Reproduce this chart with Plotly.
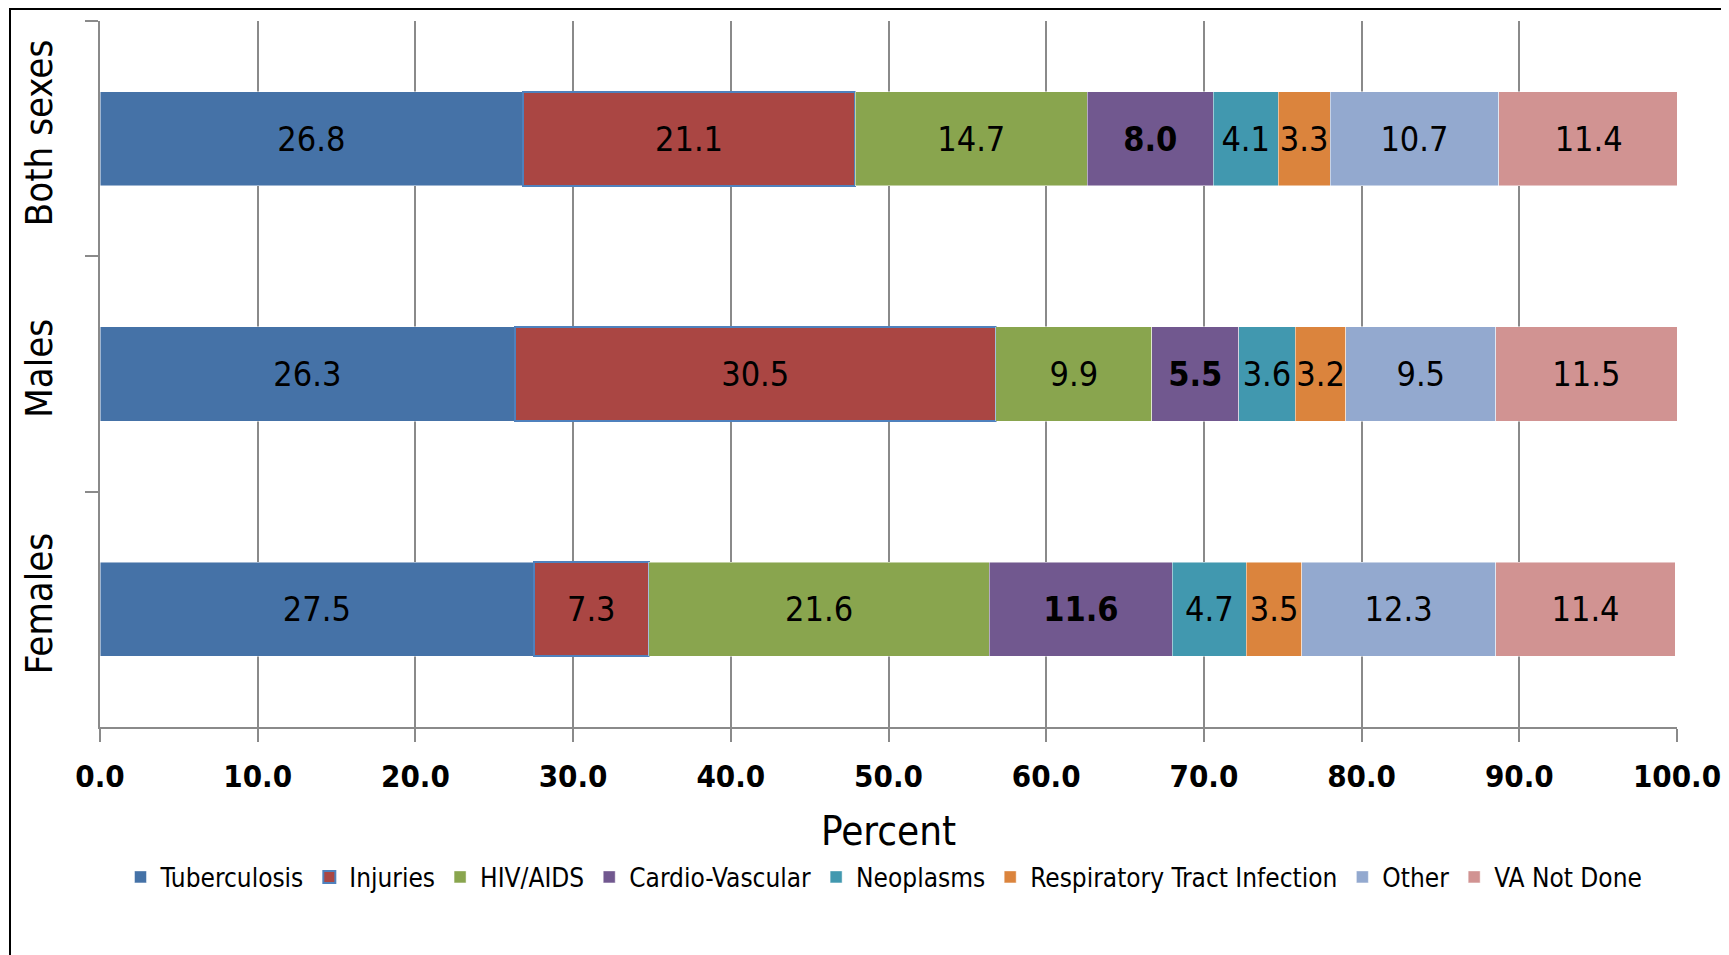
import plotly.graph_objects as go

groups = ["Both sexes", "Males", "Females"]
causes = ["Tuberculosis", "Injuries", "HIV/AIDS", "Cardio-Vascular", "Neoplasms",
          "Respiratory Tract Infection", "Other", "VA Not Done"]
tuberculosis = [26.8, 26.3, 27.5]
injuries = [21.1, 30.5, 7.3]
hiv_aids = [14.7, 9.9, 21.6]
cardio = [8.0, 5.5, 11.6]
neoplasms = [4.1, 3.6, 4.7]
respiratory = [3.3, 3.2, 3.5]
other = [10.7, 9.5, 12.3]
va_not_done = [11.4, 11.5, 11.4]
x_ticks = [0, 10, 20, 30, 40, 50, 60, 70, 80, 90, 100]

series = [tuberculosis, injuries, hiv_aids, cardio, neoplasms, respiratory, other, va_not_done]
colors = ["#4572A7", "#AA4643", "#89A54E", "#71588F", "#4198AF", "#DB843D", "#93A9CF", "#D19392"]

FONT = "Liberation Sans Narrow, Arial Narrow, DejaVu Sans Condensed, sans-serif"

# page has an 8px body margin, so the figure is made 8px smaller than the window
W, H = 1721, 947
L, T, B = 92, 13, 228
PW = 1577
PH = H - T - B

fig = go.Figure()
for name, vals, col in zip(causes, series, colors):
    bold = name == "Cardio-Vascular"
    line = dict(width=2, color="#4F81BD") if name == "Injuries" else dict(width=0.8, color="rgba(255,255,255,0.6)")
    fig.add_trace(go.Bar(
        name=name,
        y=groups,
        x=vals,
        orientation="h",
        marker=dict(color=col, line=line),
        text=[f"<b>{v:.1f}</b>" if bold else f"{v:.1f}" for v in vals],
        textposition="inside",
        insidetextanchor="middle",
        textangle=0,
        textfont=dict(family=FONT, size=34, color="black"),
    ))

fig.update_layout(
    barmode="stack",
    bargap=0.6,
    width=W,
    height=H,
    margin=dict(l=L, r=W - L - PW, t=T, b=B, autoexpand=False),
    paper_bgcolor="white",
    plot_bgcolor="white",
    font=dict(family=FONT, color="black"),
    uniformtext=dict(minsize=34, mode="show"),
    legend=dict(
        orientation="h",
        xref="container",
        x=0.509, xanchor="center",
        y=-150 / PH, yanchor="middle",
        font=dict(size=26),
        traceorder="normal",
        itemwidth=30,
        tracegroupgap=0,
    ),
    xaxis=dict(
        range=[0, 100],
        tickvals=x_ticks,
        ticktext=[f"<b>{v:.1f}</b>" for v in x_ticks],
        tickfont=dict(size=31),
        ticks="outside", ticklen=13, tickcolor="#8a8a8a", tickwidth=2,
        ticklabelstandoff=8,
        ticklabeloverflow="allow",
        showgrid=True, gridcolor="#8a8a8a", gridwidth=2,
        showline=True, linecolor="#8a8a8a", linewidth=2,
        zeroline=False,
        automargin=False,
        title=dict(text="Percent", font=dict(size=40), standoff=24),
    ),
    yaxis=dict(
        autorange="reversed",
        tickangle=-90,
        tickfont=dict(size=38),
        ticks="outside", ticklen=13, tickcolor="#8a8a8a", tickwidth=2,
        tickson="boundaries",
        ticklabelstandoff=31,
        ticklabeloverflow="allow",
        showline=True, linecolor="#8a8a8a", linewidth=2,
        showgrid=False,
        automargin=False,
    ),
    shapes=[dict(
        type="rect", xref="paper", yref="paper",
        x0=(2 - L) / PW, x1=(1740 - L) / PW,
        y0=(PH + T - 960) / PH, y1=(PH + T - 1) / PH,
        line=dict(color="black", width=2), fillcolor="rgba(0,0,0,0)",
        layer="below",
    )],
)

fig.write_html("out.html")
